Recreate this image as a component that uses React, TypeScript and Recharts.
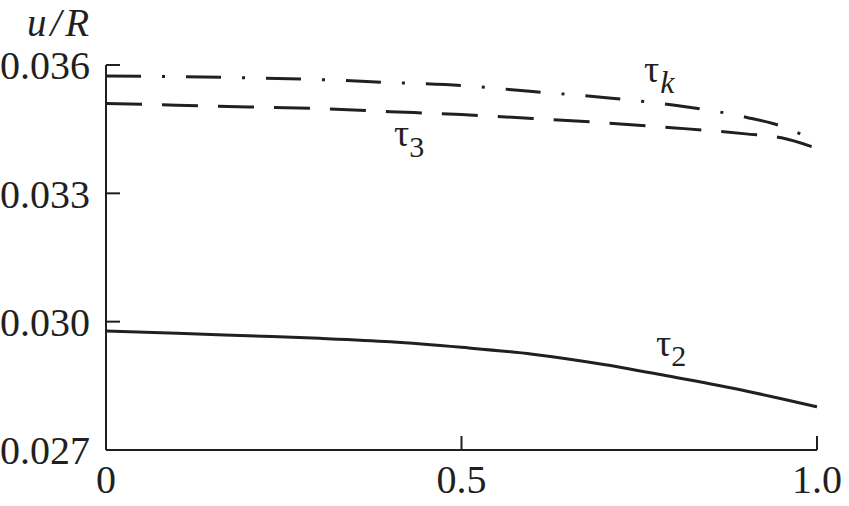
import { LineChart, Line, XAxis, YAxis } from "recharts";

const xs = [0, 0.1, 0.2, 0.3, 0.4, 0.5, 0.6, 0.7, 0.8, 0.9, 0.95, 1.0];
const tauK = [0.03574, 0.03573, 0.0357, 0.03566, 0.03559, 0.03552, 0.03538, 0.03524, 0.03506, 0.03478, 0.03457, 0.0342];
const tau3 = [0.0351, 0.03506, 0.03502, 0.03498, 0.03491, 0.03484, 0.03475, 0.03465, 0.03453, 0.03439, 0.0343, 0.03405];
const tau2 = [0.02978, 0.02973, 0.02967, 0.02961, 0.02953, 0.0294, 0.02924, 0.029, 0.0287, 0.02838, 0.0282, 0.02801];

const xTicks = [0, 0.5, 1.0];
const xTickLabels = ["0", "0.5", "1.0"];
const yTicks = [0.027, 0.03, 0.033, 0.036];

const ink = "#231f20";
const serif = "'Liberation Serif', 'Times New Roman', serif";

const rows = xs.map((x, i) => ({ x, tk: tauK[i], t3: tau3[i], t2: tau2[i] }));

const tickStyle = { fill: ink, fontSize: 40, style: { fontFamily: serif } };

export default function App() {
  return (
    <div
      style={{
        position: "fixed",
        left: 0,
        top: 0,
        width: 849,
        height: 506,
        background: "#fff",
        fontFamily: serif,
      }}
    >
      <LineChart
        width={849}
        height={506}
        data={rows}
        margin={{ top: 65, right: 32, bottom: 0, left: 0 }}
        style={{ fontFamily: serif }}
      >
        <XAxis
          dataKey="x"
          type="number"
          domain={[0, 1]}
          ticks={xTicks}
          tickFormatter={(v) => xTickLabels[xTicks.indexOf(v)] ?? String(v)}
          height={56}
          tickSize={-14}
          tickMargin={29}
          axisLine={{ stroke: ink, strokeWidth: 2 }}
          tickLine={{ stroke: ink, strokeWidth: 2 }}
          tick={tickStyle}
          interval={0}
        />
        <YAxis
          type="number"
          domain={[0.027, 0.036]}
          ticks={yTicks}
          tickFormatter={(v) => v.toFixed(3)}
          width={106}
          tickSize={-14}
          tickMargin={30}
          axisLine={{ stroke: ink, strokeWidth: 2 }}
          tickLine={{ stroke: ink, strokeWidth: 2 }}
          tick={tickStyle}
          interval={0}
          allowDataOverflow
        />
        <Line
          dataKey="tk"
          type="monotone"
          stroke={ink}
          strokeWidth={3}
          strokeDasharray="35 21 3 21"
          dot={false}
          isAnimationActive={false}
        />
        <Line
          dataKey="t3"
          type="monotone"
          stroke={ink}
          strokeWidth={3}
          strokeDasharray="36 20"
          dot={false}
          isAnimationActive={false}
        />
        <Line
          dataKey="t2"
          type="monotone"
          stroke={ink}
          strokeWidth={3}
          dot={false}
          isAnimationActive={false}
        />
      </LineChart>
      <svg
        width={849}
        height={506}
        style={{ position: "absolute", left: 0, top: 0, pointerEvents: "none" }}
      >
        <g fill={ink} style={{ fontFamily: serif }}>
          <text x={27} y={36} fontSize={39} style={{ fontFamily: serif, fontStyle: "italic" }}>
            u<tspan dx={4}>/</tspan><tspan dx={4}>R</tspan>
          </text>
          <text x={644} y={82} fontSize={38} style={{ fontFamily: serif }}>
            τ<tspan fontSize={32} dx={1} dy={11} style={{ fontStyle: "italic" }}>k</tspan>
          </text>
          <text x={394} y={146} fontSize={38} style={{ fontFamily: serif }}>
            τ<tspan fontSize={30} dy={11}>3</tspan>
          </text>
          <text x={656} y={356} fontSize={38} style={{ fontFamily: serif }}>
            τ<tspan fontSize={30} dy={10}>2</tspan>
          </text>
        </g>
      </svg>
    </div>
  );
}
